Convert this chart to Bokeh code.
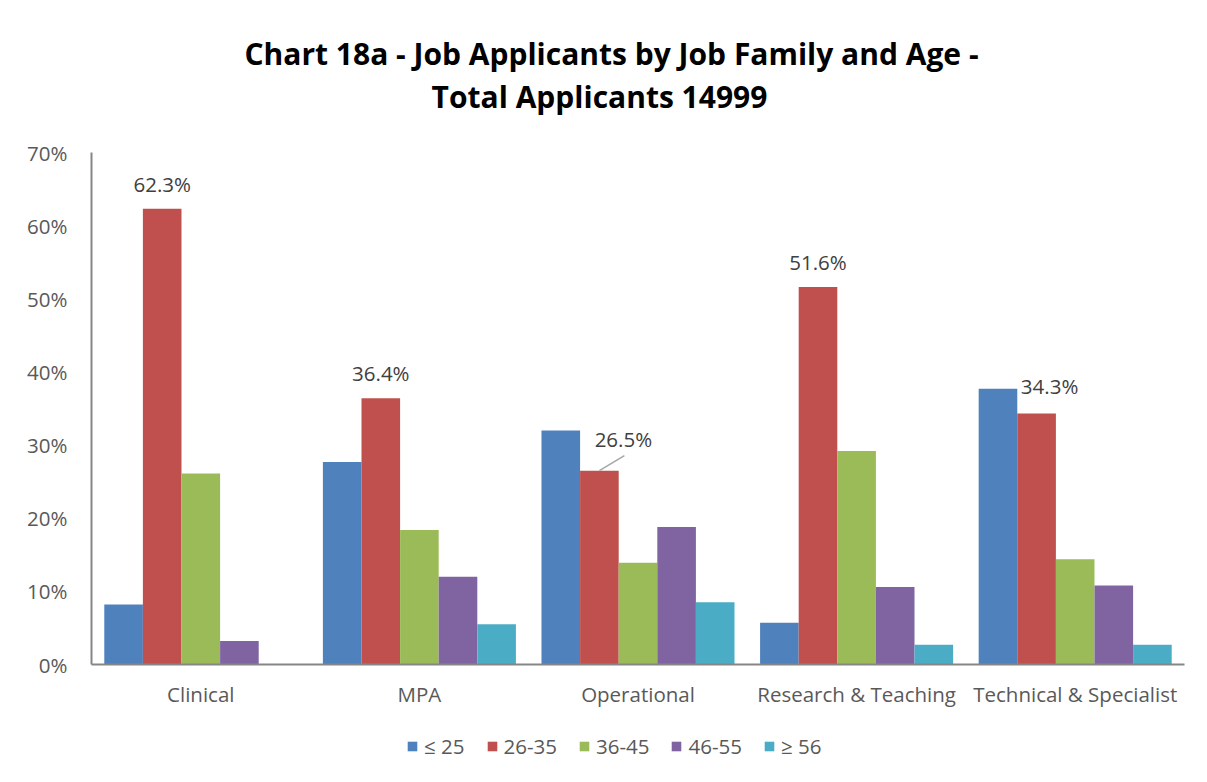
from bokeh.plotting import figure
from bokeh.layouts import column
from bokeh.models import Range1d, FixedTicker, Legend, LegendItem, Label, ColumnDataSource
from bokeh.embed import file_html
from bokeh.resources import INLINE
from bokeh.core.properties import value

# ---------------- data ----------------
categories = ["Clinical", "MPA", "Operational", "Research & Teaching", "Technical & Specialist"]
series_names = ["\u2264 25", "26-35", "36-45", "46-55", "\u2265 56"]
age_le25 = [8.2, 27.7, 32.0, 5.7, 37.7]
age_26_35 = [62.3, 36.4, 26.5, 51.6, 34.3]
age_36_45 = [26.1, 18.4, 13.9, 29.2, 14.4]
age_46_55 = [3.2, 12.0, 18.8, 10.6, 10.8]
age_ge56 = [0.0, 5.5, 8.5, 2.7, 2.7]
y_ticks = [0, 10, 20, 30, 40, 50, 60, 70]
y_tick_labels = ["0%", "10%", "20%", "30%", "40%", "50%", "60%", "70%"]
title_lines = ["Chart 18a - Job Applicants by Job Family and Age -", "Total Applicants 14999"]
labelled_series = 1  # data labels shown for the 26-35 series

# ---------------- style / layout ----------------
colors = ["#4F81BD", "#C0504D", "#9BBB59", "#8064A2", "#4BACC6"]
FONT = "Open Sans"
W = 1205
TITLE_H = 137
ML, MR, MT, MB = 91, 21, 15, 50
MAIN_H = 577
LEG_H = 66
FW, FH = W - ML - MR, MAIN_H - MT - MB
bar_w = 0.1766
label_dx = [0, 0, 24, 0, 13]     # px
label_dy = [25, 25, 32, 25, 28]  # px up
leader = [False, False, True, False, False]

series_vals = [age_le25, age_26_35, age_36_45, age_46_55, age_ge56]

# ---------------- title strip ----------------
tp = figure(width=W, height=TITLE_H, output_backend="svg", toolbar_location=None,
            x_range=Range1d(0, 1), y_range=Range1d(0, 1),
            x_axis_type=None, y_axis_type=None, min_border=0)
tp.outline_line_color = None
tp.grid.visible = False
for line, (cx, cy) in zip(title_lines, [(611 - ML, 84), (599 - ML, 41)]):
    tp.add_layout(Label(x=cx, y=cy, x_units="screen", y_units="screen", text=line,
                        text_font=FONT, text_font_style="bold", text_font_size="30px",
                        text_color="black", text_align="center", text_baseline="middle"))

# ---------------- main chart ----------------
p = figure(width=W, height=MAIN_H, output_backend="svg", toolbar_location=None,
           x_range=Range1d(0, len(categories)), y_range=Range1d(0, 70),
           min_border_left=ML, min_border_right=MR, min_border_top=MT, min_border_bottom=MB)
p.outline_line_color = None
p.grid.visible = False
p.background_fill_color = "white"
p.border_fill_color = "white"

for j, (name, vals, col) in enumerate(zip(series_names, series_vals, colors)):
    xs = [i + 0.5 + (j - 2) * bar_w for i in range(len(categories))]
    src = ColumnDataSource(dict(x=xs, top=vals))
    p.vbar(x="x", top="top", width=bar_w, source=src, fill_color=col, line_color=None)

vals = series_vals[labelled_series]
xs = [i + 0.5 + (labelled_series - 2) * bar_w for i in range(len(categories))]
lsrc = ColumnDataSource(dict(x=xs, y=vals, t=[f"{v:.1f}%" for v in vals],
                             dx=label_dx, dy=[-d for d in label_dy]))
p.text(x="x", y="y", text="t", x_offset="dx", y_offset="dy", source=lsrc,
       text_font=value(FONT), text_font_size="20.5px", text_color="#404040",
       text_align="center", text_baseline="middle")
px_x = len(categories) / FW
px_y = 70 / FH
for i, has in enumerate(leader):
    if has:
        p.segment(x0=[xs[i]], y0=[vals[i]], x1=[xs[i] + 25 * px_x], y1=[vals[i] + 15 * px_y],
                  line_color="#A6A6A6", line_width=1.5)

p.xaxis.ticker = FixedTicker(ticks=[i + 0.5 for i in range(len(categories))])
p.xaxis.major_label_overrides = {i + 0.5: c for i, c in enumerate(categories)}
p.yaxis.ticker = FixedTicker(ticks=y_ticks)
p.yaxis.major_label_overrides = {t: l for t, l in zip(y_ticks, y_tick_labels)}
for ax in (p.xaxis, p.yaxis):
    ax.axis_line_color = "#868686"
    ax.axis_line_width = 2
    ax.major_tick_line_color = None
    ax.minor_tick_line_color = None
    ax.major_label_text_font = FONT
    ax.major_label_text_font_size = "20.5px"
    ax.major_label_text_color = "#595959"
p.xaxis.major_label_standoff = 9
p.yaxis.major_label_standoff = 18

# ---------------- legend strip ----------------
lp = figure(width=W, height=LEG_H, output_backend="svg", toolbar_location=None,
            x_range=Range1d(0, 1), y_range=Range1d(0, 1),
            x_axis_type=None, y_axis_type=None, min_border=0)
lp.outline_line_color = None
lp.grid.visible = False
items = []
nan = float("nan")
for name, col in zip(series_names, colors):
    r = lp.vbar(x=[nan], top=[nan], width=0.1, fill_color=col, line_color=None)
    items.append(LegendItem(label=name, renderers=[r]))
legend = Legend(items=items, orientation="horizontal", location=(406 - ML, 20),
                border_line_color=None, background_fill_alpha=0,
                label_text_font=FONT, label_text_font_size="20.5px", label_text_color="#595959",
                glyph_width=12, glyph_height=12, label_standoff=6, spacing=21,
                margin=0, padding=0)
lp.add_layout(legend)

layout = column(tp, p, lp, spacing=0)
open("out.html", "w").write(file_html(layout, INLINE))
